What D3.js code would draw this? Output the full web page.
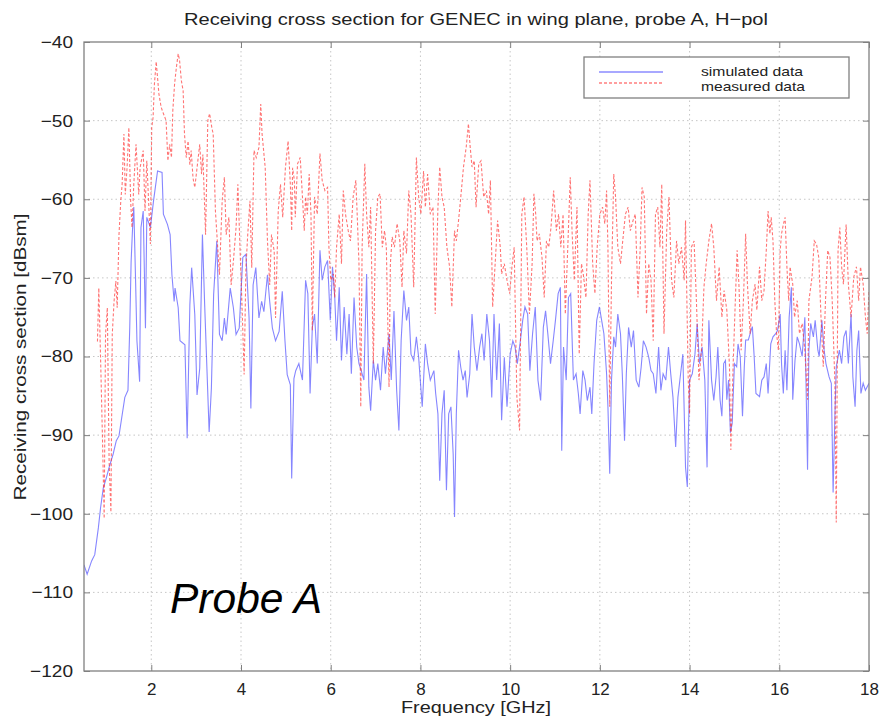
<!DOCTYPE html>
<html><head><meta charset="utf-8">
<script src="https://cdn.jsdelivr.net/npm/d3@7"></script>
<style>body{margin:0;background:#fff}svg{display:block}text{font-family:"Liberation Sans",Arial,Helvetica,sans-serif;fill:#222}</style>
</head><body><svg id="c" width="881" height="720"></svg>
<script>
const titleText = "Receiving cross section for GENEC in wing plane, probe A, H\u2212pol";
const xLabelText = "Frequency [GHz]";
const yLabelText = "Receiving cross section [dBsm]";
const legendLabels = ["simulated data", "measured data"];
const xTicks = [2,4,6,8,10,12,14,16,18];
const yTicks = [-120,-110,-100,-90,-80,-70,-60,-50,-40];

const simFreq = [0.50,0.57,0.67,0.74,0.82,0.87,0.93,1.00,1.06,1.15,1.22,1.28,1.33,1.41,1.48,1.52,1.55,1.58,1.61,1.65,1.68,1.74,1.77,1.82,1.87,1.90,1.98,2.05,2.14,2.24,2.27,2.36,2.42,2.46,2.51,2.53,2.60,2.64,2.75,2.80,2.86,2.90,2.97,3.02,3.08,3.14,3.19,3.24,3.29,3.34,3.39,3.46,3.52,3.58,3.63,3.67,3.76,3.83,3.89,3.96,4.04,4.11,4.18,4.22,4.27,4.33,4.40,4.46,4.51,4.59,4.64,4.70,4.77,4.85,4.92,4.98,5.03,5.10,5.13,5.18,5.22,5.29,5.37,5.44,5.49,5.54,5.59,5.64,5.70,5.76,5.81,5.87,5.93,5.99,6.04,6.09,6.13,6.19,6.24,6.30,6.36,6.41,6.46,6.52,6.58,6.63,6.68,6.74,6.80,6.85,6.89,6.95,7.00,7.05,7.11,7.17,7.22,7.30,7.35,7.41,7.47,7.52,7.57,7.63,7.69,7.74,7.79,7.85,7.91,7.96,8.04,8.11,8.16,8.22,8.30,8.34,8.39,8.43,8.48,8.53,8.58,8.63,8.68,8.73,8.76,8.80,8.85,8.90,8.95,9.00,9.04,9.10,9.15,9.20,9.26,9.32,9.37,9.42,9.48,9.54,9.59,9.64,9.70,9.76,9.81,9.87,9.93,10.00,10.06,10.11,10.16,10.22,10.28,10.33,10.39,10.44,10.50,10.56,10.62,10.68,10.74,10.79,10.84,10.90,10.96,11.01,11.07,11.12,11.15,11.19,11.25,11.30,11.35,11.41,11.47,11.52,11.56,11.62,11.67,11.72,11.78,11.82,11.87,11.93,11.99,12.04,12.09,12.15,12.18,12.22,12.26,12.31,12.35,12.40,12.46,12.50,12.55,12.59,12.64,12.70,12.75,12.81,12.87,12.92,12.97,13.03,13.09,13.14,13.19,13.25,13.31,13.36,13.41,13.47,13.53,13.58,13.63,13.69,13.74,13.80,13.85,13.91,13.95,14.00,14.06,14.12,14.17,14.22,14.28,14.34,14.39,14.43,14.49,14.54,14.59,14.63,14.68,14.72,14.76,14.80,14.83,14.87,14.91,14.95,15.00,15.05,15.08,15.13,15.18,15.22,15.25,15.31,15.37,15.40,15.44,15.48,15.56,15.61,15.66,15.71,15.75,15.81,15.86,15.92,15.96,16.02,16.05,16.09,16.13,16.17,16.22,16.27,16.30,16.35,16.40,16.45,16.51,16.57,16.63,16.66,16.70,16.76,16.80,16.86,16.89,16.95,17.00,17.04,17.11,17.16,17.20,17.24,17.27,17.34,17.39,17.44,17.49,17.54,17.60,17.64,17.69,17.73,17.77,17.82,17.87,17.92,18.00];
const simDb = [-106.5,-107.7,-106.0,-105.2,-101.8,-99.2,-96.7,-95.4,-94.1,-92.4,-90.7,-90.1,-88.2,-85.2,-84.3,-76.3,-68,-64,-61,-70.4,-78,-83.2,-63.6,-61.5,-76.4,-62.3,-63.6,-60.2,-56.4,-56.6,-61.9,-63.2,-64.5,-69.6,-73,-71.3,-73.8,-78,-78.5,-90.4,-73.4,-68.7,-74.7,-84.9,-81.5,-64.5,-73.4,-81.5,-89.6,-84,-72.1,-65.3,-77.2,-78,-75.1,-77.2,-71.3,-73.8,-77.2,-76.4,-67.4,-67,-75.1,-86.6,-70.9,-68.7,-75.1,-73,-74.3,-69.6,-73,-76.4,-78,-76.8,-71.7,-78,-82.3,-83.6,-95.5,-82.8,-81.8,-80.9,-83,-70.3,-72,-84.7,-76.3,-74.6,-80.9,-66.5,-70.3,-68.6,-67.8,-75.4,-68.6,-72.5,-78,-71.2,-80.5,-73.7,-79.7,-74.6,-82.2,-72.5,-78.8,-80.9,-81.8,-83,-69.5,-83.9,-86.9,-80.5,-83,-80.9,-84.3,-78.8,-82.2,-77.1,-83,-74.2,-84.3,-89.4,-78,-71.6,-75.4,-73.7,-79.7,-80.5,-77.5,-80.1,-86.4,-78.4,-80.9,-83,-81.8,-84.7,-87.3,-95.8,-87.3,-84.3,-97,-87.3,-86.4,-92.4,-100.4,-87.3,-79.2,-81.4,-83,-81.8,-85.2,-82.2,-74.6,-78.8,-81.8,-78.8,-77.1,-80.5,-74.6,-78,-85.2,-74.6,-83,-75.8,-88.1,-80.1,-86.4,-79.7,-78,-78.8,-80.9,-78.4,-75.4,-73.7,-74.6,-81.8,-77.1,-73.7,-83,-85.6,-76.3,-74.2,-77.1,-80.9,-78,-75.4,-72,-71.2,-92,-78.8,-83,-72.5,-72,-83,-82.2,-84.7,-87.3,-81.8,-83,-85.6,-83.9,-87.3,-80.9,-75.4,-73.7,-75.4,-77.1,-82.2,-86.4,-94.9,-83,-77.5,-78.8,-74.6,-77.1,-82.2,-90.7,-82.2,-76.3,-78.8,-76.7,-83,-83.9,-81.4,-78,-78.8,-80.1,-81.8,-82.2,-84.7,-78.8,-84.3,-82.2,-83,-78.8,-82.2,-85.2,-91.5,-85.2,-82.2,-79.7,-94.1,-96.6,-83,-82.2,-79.7,-75.8,-80.9,-78.8,-83,-94.1,-75.4,-83,-85.6,-82.6,-78.8,-85.5,-87.6,-80.9,-80.5,-85.5,-83,-89.7,-88.5,-80.9,-81.3,-78.4,-80,-87.6,-81.3,-77.9,-77.9,-76.7,-76.2,-80,-84.7,-85.1,-83,-82.6,-80.9,-84.7,-78.4,-77.5,-77.1,-76.7,-74.6,-80.9,-84.7,-79.2,-84.3,-75,-71.2,-85.5,-80.5,-77.5,-78.4,-80,-75,-94.4,-79.2,-75.8,-77.5,-75.4,-79.2,-80,-75.4,-79.2,-80.9,-82.6,-83.4,-97.3,-87.6,-81.3,-79.2,-80.9,-77.5,-76.7,-80.9,-74.6,-82.6,-86.4,-79.2,-76.7,-84.7,-83.4,-84.3,-83.4];

const measFreq = [0.80,0.83,0.875,0.91,0.95,0.98,1.02,1.06,1.10,1.13,1.17,1.21,1.24,1.28,1.32,1.35,1.39,1.42,1.46,1.50,1.54,1.57,1.61,1.66,1.72,1.75,1.82,1.86,1.90,1.94,1.98,2.01,2.04,2.07,2.11,2.17,2.22,2.27,2.33,2.37,2.41,2.45,2.48,2.52,2.56,2.60,2.63,2.67,2.71,2.74,2.78,2.82,2.86,2.89,2.93,2.97,3.02,3.08,3.12,3.15,3.21,3.26,3.30,3.35,3.38,3.43,3.49,3.52,3.58,3.63,3.67,3.73,3.78,3.83,3.89,3.93,3.98,4.02,4.07,4.11,4.15,4.20,4.24,4.29,4.34,4.40,4.44,4.47,4.54,4.59,4.64,4.68,4.74,4.77,4.83,4.88,4.93,4.99,5.05,5.10,5.13,5.15,5.19,5.21,5.26,5.32,5.37,5.41,5.44,5.48,5.52,5.56,5.59,5.64,5.70,5.76,5.81,5.87,5.93,5.96,6.00,6.06,6.09,6.13,6.19,6.24,6.28,6.33,6.39,6.44,6.50,6.56,6.59,6.63,6.67,6.70,6.76,6.80,6.85,6.89,6.95,7.00,7.05,7.10,7.15,7.20,7.24,7.30,7.33,7.37,7.42,7.48,7.54,7.59,7.63,7.69,7.74,7.79,7.85,7.91,7.96,8.01,8.07,8.11,8.16,8.22,8.28,8.33,8.39,8.43,8.48,8.53,8.59,8.65,8.70,8.76,8.80,8.85,8.90,8.96,9.02,9.07,9.11,9.15,9.20,9.24,9.30,9.35,9.41,9.47,9.52,9.56,9.61,9.67,9.72,9.78,9.81,9.87,9.93,9.99,10.04,10.09,10.15,10.21,10.26,10.31,10.37,10.43,10.49,10.53,10.57,10.60,10.65,10.71,10.76,10.81,10.86,10.91,10.97,11.03,11.08,11.13,11.18,11.23,11.28,11.34,11.38,11.43,11.49,11.54,11.59,11.63,11.69,11.74,11.78,11.84,11.89,11.94,12.00,12.06,12.11,12.15,12.18,12.22,12.26,12.31,12.35,12.40,12.46,12.51,12.57,12.63,12.68,12.74,12.79,12.85,12.90,12.94,12.99,13.04,13.09,13.14,13.19,13.24,13.29,13.34,13.38,13.43,13.49,13.54,13.60,13.65,13.71,13.76,13.82,13.88,13.91,13.97,14.00,14.04,14.10,14.15,14.21,14.27,14.32,14.37,14.43,14.49,14.54,14.60,14.66,14.72,14.77,14.83,14.89,14.92,14.97,15.02,15.06,15.10,15.15,15.20,15.25,15.29,15.35,15.40,15.46,15.50,15.56,15.61,15.66,15.71,15.75,15.79,15.82,15.86,15.90,15.94,15.98,16.02,16.05,16.09,16.13,16.17,16.21,16.24,16.30,16.34,16.40,16.45,16.51,16.57,16.63,16.66,16.73,16.78,16.83,16.88,16.93,16.98,17.03,17.08,17.13,17.18,17.24,17.27,17.31,17.35,17.39,17.43,17.49,17.54,17.60,17.66,17.72,17.77,17.81,17.87,17.92,17.96,18.00];
const measDb = [-78.1,-71.3,-81.5,-90,-100.6,-77.2,-73.8,-93.4,-99.8,-77.2,-73,-70.4,-73.8,-64.5,-60.2,-58.1,-51.7,-59.4,-56,-50.9,-60.2,-63.6,-58.1,-53,-59.4,-56,-53.8,-61.5,-55.1,-60.2,-65.7,-50.9,-49.6,-45.3,-42.5,-46.6,-48.3,-49.1,-50,-55.1,-53,-54.7,-48.7,-45.3,-43.2,-41.5,-42.3,-44.9,-46.2,-51.7,-54.7,-52.6,-55.6,-53.8,-57.3,-58.5,-56,-53,-56.8,-54.3,-64.5,-50,-49.1,-50.9,-51.7,-61.5,-67,-69.6,-60.2,-57.2,-64.5,-62.3,-70.9,-67.9,-63.6,-58.1,-66.6,-73,-82.3,-68.7,-64.5,-60.2,-68.7,-53.8,-54.7,-53.4,-47.9,-51.7,-56,-65.3,-70.9,-64.5,-66.6,-75.1,-61.5,-58.1,-62.3,-56,-52.6,-58.1,-64,-56,-57.6,-62.3,-55.5,-54.7,-59.7,-64,-59.7,-61.9,-56.8,-61.9,-76.7,-59.7,-61.9,-54.2,-57.6,-58.9,-58.5,-66.1,-70.3,-69.5,-72.5,-66.1,-61.9,-68.2,-58.9,-61.9,-64,-65.3,-59.7,-57.6,-61.9,-68.2,-86.4,-66.1,-55.5,-61.9,-66.1,-61,-80.9,-64,-59.7,-59.3,-66.1,-64,-66.1,-83.9,-68.2,-64.8,-66.1,-63.1,-65.3,-71.2,-64,-66.9,-58.9,-61.9,-71.2,-54.7,-59.7,-61.9,-56.4,-61,-56.8,-61.9,-61,-74.6,-61,-55.9,-59.7,-61,-66.1,-68.6,-73.7,-64,-65.3,-62.7,-59.7,-55.9,-53.4,-50.4,-53.4,-55.9,-55.1,-61,-55.5,-55.1,-59.7,-58.9,-61.9,-57.6,-73.7,-67.8,-62.7,-66.1,-69.5,-68.2,-70.3,-72,-68.6,-66.1,-85.2,-89.4,-61.9,-59.7,-66.1,-74.6,-68.2,-59.3,-61.9,-65.3,-64.4,-67.4,-72.5,-65.3,-66.1,-63.6,-58.9,-64,-61.9,-66.1,-61.9,-74.6,-66.9,-57.2,-64,-70.3,-61,-79.7,-68.2,-69.5,-72.5,-61.9,-57.6,-68.2,-72,-66.1,-61.9,-61,-63.1,-58.9,-66.1,-86.4,-70.3,-56.8,-59.7,-66.1,-68.2,-65.3,-61.9,-61,-64,-62.7,-61.9,-72.5,-66.1,-58.5,-59.7,-74.6,-68.2,-70.3,-78,-61.9,-61,-66.1,-58.1,-77.1,-64,-59.7,-70.3,-72.5,-65.3,-68.2,-66.1,-70.3,-62.7,-83,-87.3,-66.1,-65.3,-72.5,-83,-78.8,-71.2,-68.2,-65.3,-63.1,-66.1,-72.9,-68.6,-75,-71.6,-74.1,-81.3,-91.9,-81.3,-72.9,-66.5,-70.8,-79.2,-72.9,-64.4,-70.8,-77.1,-72.9,-70.8,-74.1,-68.6,-72.9,-71.6,-66.5,-61.5,-64.4,-62.3,-65.3,-72.9,-77.1,-79.2,-66.5,-64.4,-63.2,-62.3,-68.6,-72.9,-68.6,-70.8,-75,-72.9,-77.1,-75.8,-79.2,-85.5,-72.9,-69.9,-65.3,-65.7,-67.4,-75,-81.3,-72.9,-66.5,-67.4,-72.9,-83.4,-101.1,-66.5,-63.6,-68.6,-70.8,-63.2,-70.8,-75,-69.9,-68.6,-72.9,-68.6,-70.8,-75,-77.1,-71.6];

const svg = d3.select("#c");
const L = 84, R = 869, T = 42, B = 671;
const x = d3.scaleLinear().domain([0.5, 18]).range([L, R]);
const y = d3.scaleLinear().domain([-120, -40]).range([B, T]);
const frameColor = "#808080";

function fit(sel, w) { sel.attr("textLength", w).attr("lengthAdjust", "spacingAndGlyphs"); }
function stretch(sel, k) { sel.each(function(){ const w = this.getComputedTextLength(); d3.select(this).attr("textLength", w*k).attr("lengthAdjust","spacingAndGlyphs"); }); }

// grid
const grid = svg.append("g").attr("stroke", "#b8b8b8").attr("stroke-width", 0.8).attr("stroke-dasharray", "1.5,3");
grid.selectAll("line.gx").data(xTicks.filter(d => d < 18)).join("line")
  .attr("x1", d => x(d)).attr("x2", d => x(d)).attr("y1", T).attr("y2", B);
grid.selectAll("line.gy").data(yTicks.filter(d => d > -120 && d < -40)).join("line")
  .attr("y1", d => y(d)).attr("y2", d => y(d)).attr("x1", L).attr("x2", R);

// clip
svg.append("clipPath").attr("id", "pc").append("rect").attr("x", L).attr("y", T).attr("width", R - L).attr("height", B - T);

const sim = simFreq.map((f, i) => [f, simDb[i]]);
const meas = measFreq.map((f, i) => [f, measDb[i]]);
const line = d3.line().x(d => x(d[0])).y(d => y(d[1]));

const plot = svg.append("g").attr("clip-path", "url(#pc)");
plot.append("path").datum(sim).attr("d", line).attr("fill", "none")
  .attr("stroke", "#3c3cff").attr("stroke-opacity", 0.62).attr("stroke-width", 1.1);
plot.append("path").datum(meas).attr("d", line).attr("fill", "none")
  .attr("stroke", "#ff2a2a").attr("stroke-opacity", 0.65).attr("stroke-width", 1.1).attr("stroke-dasharray", "3,2");

// axes (MATLAB-style inward ticks on all sides)
const tk = 6;
const axB = d3.axisBottom(x).tickValues(xTicks).tickSizeInner(-tk).tickSizeOuter(0).tickPadding(12);
const axT = d3.axisTop(x).tickValues(xTicks).tickSizeInner(-tk).tickSizeOuter(0).tickFormat("");
const axL = d3.axisLeft(y).tickValues(yTicks).tickSizeInner(-tk).tickSizeOuter(0).tickPadding(11)
  .tickFormat(d => String(d).replace("-", "\u2212"));
const axR = d3.axisRight(y).tickValues(yTicks).tickSizeInner(-tk).tickSizeOuter(0).tickFormat("");
function styleAxis(g) {
  g.select(".domain").remove();
  g.selectAll(".tick line").attr("stroke", frameColor).attr("stroke-width", 1);
  g.selectAll(".tick text").attr("fill", "#222").style("font-size", "17px")
   .style("font-family", '"Liberation Sans", Arial, sans-serif');
}
svg.append("g").attr("transform", `translate(0,${B})`).call(axB).call(styleAxis);
svg.append("g").attr("transform", `translate(0,${T})`).call(axT).call(styleAxis);
const gl = svg.append("g").attr("transform", `translate(${L},0)`).call(axL).call(styleAxis);
svg.append("g").attr("transform", `translate(${R},0)`).call(axR).call(styleAxis);
gl.selectAll(".tick text").call(stretch, 1.12);

svg.append("rect").attr("x", L).attr("y", T).attr("width", R - L).attr("height", B - T)
  .attr("fill", "none").attr("stroke", frameColor).attr("stroke-width", 1.3);

// titles
svg.append("text").attr("x", 476).attr("y", 25).attr("text-anchor", "middle")
  .style("font-size", "17px").text(titleText).call(fit, 584);
svg.append("text").attr("x", 476).attr("y", 713).attr("text-anchor", "middle")
  .style("font-size", "17px").text(xLabelText).call(fit, 150);
svg.append("text").attr("transform", "translate(26,357) rotate(-90)").attr("text-anchor", "middle")
  .style("font-size", "17px").text(yLabelText).call(fit, 287);

// legend
const lg = svg.append("g");
lg.append("rect").attr("x", 584).attr("y", 57).attr("width", 265).attr("height", 41)
  .attr("fill", "#fff").attr("stroke", frameColor).attr("stroke-width", 1.3);
lg.append("line").attr("x1", 599).attr("x2", 663).attr("y1", 72).attr("y2", 72)
  .attr("stroke", "#3c3cff").attr("stroke-opacity", 0.6).attr("stroke-width", 1.3);
lg.append("line").attr("x1", 599).attr("x2", 663).attr("y1", 83).attr("y2", 83)
  .attr("stroke", "#ff2a2a").attr("stroke-opacity", 0.6).attr("stroke-width", 1.3).attr("stroke-dasharray", "3,2");
lg.append("text").attr("x", 701).attr("y", 75.5).style("font-size", "13px").text(legendLabels[0]).call(fit, 102);
lg.append("text").attr("x", 701).attr("y", 90.5).style("font-size", "13px").text(legendLabels[1]).call(fit, 104);

// annotation
svg.append("text").attr("x", 170).attr("y", 613).style("font-size", "42px").style("font-style", "italic")
  .style("fill", "#000").text("Probe A").call(fit, 152);
</script></body></html>
